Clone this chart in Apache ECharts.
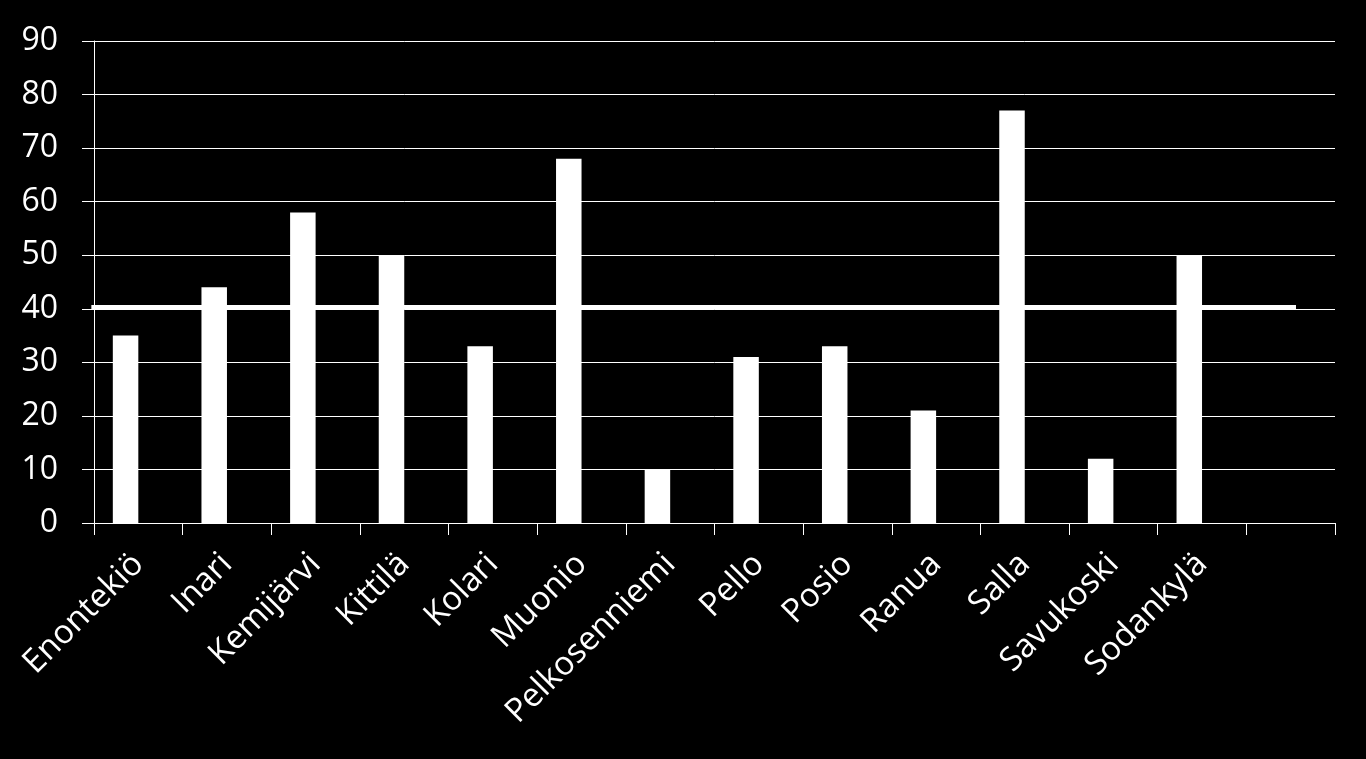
<!DOCTYPE html>
<html>
<head>
<meta charset="utf-8">
<script src="https://cdn.jsdelivr.net/npm/echarts@6/dist/echarts.min.js"></script>
<style>
html,body{margin:0;padding:0;background:#000;}
#c{width:1366px;height:759px;}
</style>
</head>
<body>
<div id="c"></div>
<script>
var categories = ["Enontekiö","Inari","Kemijärvi","Kittilä","Kolari","Muonio","Pelkosenniemi","Pello","Posio","Ranua","Salla","Savukoski","Sodankylä",""];
var barValues = [35,44,58,50,33,68,10,31,33,21,77,12,50,null];
var emptyValues = [null,null,null,null,null,null,null,null,null,null,null,null,null,null];
var averageValue = 40.3;
var averageStart = -0.03;   // in category units
var averageEnd = 13.56;
var yTicks = [0,10,20,30,40,50,60,70,80,90];

var chart = echarts.init(document.getElementById('c'));
chart.setOption({
  backgroundColor: '#000',
  animation: false,
  grid: {left: 94, right: 31, top: 41, bottom: 236},
  xAxis: [{
    type: 'category',
    data: categories,
    axisLine: {lineStyle: {color: '#fff', width: 1}},
    axisTick: {show: true, length: 12, lineStyle: {color: '#fff'}},
    axisLabel: {
      color: '#fff', fontFamily: 'Open Sans', fontSize: 33,
      rotate: 45, margin: 36, interval: 0
    }
  }, {
    type: 'value', min: 0, max: categories.length, show: false
  }],
  yAxis: {
    type: 'value', min: yTicks[0], max: yTicks[yTicks.length-1], interval: 10,
    axisLine: {show: true, lineStyle: {color: '#fff', width: 1}},
    axisTick: {show: true, length: 12, lineStyle: {color: '#fff'}},
    splitLine: {show: true, lineStyle: {color: '#fff', width: 1}},
    axisLabel: {color: '#fff', fontFamily: 'Open Sans', fontSize: 32, margin: 36}
  },
  series: [{
    type: 'bar', data: barValues, barWidth: 25.5, barGap: '0%',
    itemStyle: {color: '#fff'}
  }, {
    type: 'bar', data: emptyValues, barWidth: 25.5, barGap: '0%',
    itemStyle: {color: '#fff'}
  }, {
    type: 'line', xAxisIndex: 1, clip: false, symbol: 'none',
    data: [[averageStart, averageValue], [averageEnd, averageValue]],
    lineStyle: {color: '#fff', width: 4.5}
  }]
});
</script>
</body>
</html>
